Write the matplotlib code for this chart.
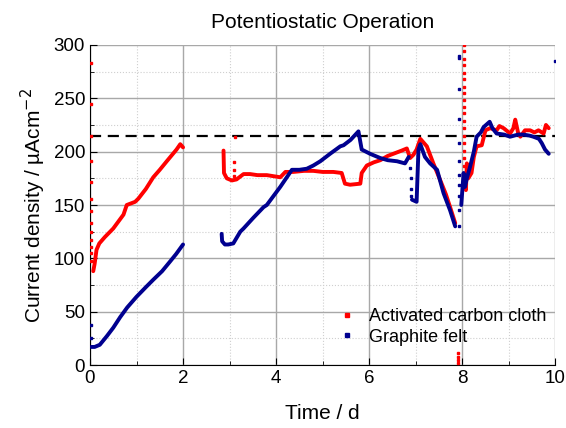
import matplotlib
matplotlib.use("Agg")
import matplotlib.pyplot as plt
from matplotlib.ticker import MultipleLocator

plt.rcParams['font.family'] = ['Liberation Sans', 'DejaVu Sans']

# activated carbon cloth (red)
red_t1 = [0.07, 0.1, 0.14, 0.2, 0.32, 0.5, 0.72, 0.79, 0.97, 1.04, 1.2, 1.36, 1.5, 1.65, 1.86, 1.94, 2.0]
red_v1 = [88, 95, 108, 114, 120, 128, 141, 150, 153, 156, 165, 176, 183, 191, 202, 207, 204]
red_t2 = [2.87, 2.88, 2.94, 3.05, 3.15, 3.3, 3.44, 3.6, 3.8, 4.09, 4.2, 4.37, 4.6, 4.8, 5.0, 5.23, 5.41,
          5.48, 5.59, 5.81, 5.84, 5.95, 6.1, 6.24, 6.4, 6.52, 6.7, 6.81, 6.88, 6.95, 7.02, 7.1, 7.24,
          7.38, 7.53, 7.65, 7.74, 7.85]
red_v2 = [201, 180, 175, 173, 174, 179, 179, 178, 178, 176, 181, 181, 182, 182, 181, 181, 180,
          170, 169, 170, 180, 187, 190, 192, 196, 198, 201, 203, 194, 197, 202, 212, 205,
          189, 173, 160, 148, 133]
red_t3 = [8.05, 8.08, 8.1, 8.13, 8.2, 8.25, 8.31, 8.42, 8.5, 8.6, 8.74, 8.8, 8.89, 9.03, 9.1, 9.14,
          9.2, 9.25, 9.35, 9.46, 9.55, 9.64, 9.75, 9.8, 9.86]
red_v3 = [170, 164, 189, 175, 180, 195, 205, 206, 220, 222, 220, 224, 222, 217, 222, 230,
          218, 214, 220, 220, 218, 220, 217, 225, 222]
# scattered red points
red_dot_t = [0.02] * 13 + [3.1, 3.1, 3.1, 3.12] + [7.91] * 4 + [8.03] * 20
red_dot_v = [283, 245, 215, 191, 172, 156, 144, 133, 125, 117, 111, 105, 98,
             177, 183, 190, 214,
             2, 5, 8, 11,
             300, 294, 287, 281, 274, 268, 261, 255, 248, 242, 236, 229, 222, 215, 208, 201, 194, 187, 180, 173]

# graphite felt (blue)
blue_t1 = [0.03, 0.1, 0.21, 0.36, 0.5, 0.65, 0.8, 1.0, 1.2, 1.36, 1.55, 1.72, 1.85, 2.0]
blue_v1 = [17, 17, 19, 27, 35, 45, 54, 64, 73, 80, 88, 97, 104, 113]
blue_t2 = [2.83, 2.84, 2.9, 2.97, 3.08, 3.23, 3.3, 3.51, 3.73, 3.8, 4.09, 4.34, 4.5, 4.66, 4.8, 4.95,
           5.16, 5.38, 5.45, 5.6, 5.77, 5.84, 6.02, 6.24, 6.4, 6.6, 6.77, 6.85]
blue_v2 = [123, 116, 113, 113, 114, 125, 128, 138, 148, 150, 167, 183, 183, 184, 187, 191,
           198, 205, 206, 211, 219, 202, 198, 194, 192, 191, 189, 195]
blue_t3 = [6.92, 6.97, 7.02, 7.06, 7.1, 7.2, 7.31, 7.46, 7.6, 7.74, 7.85]
blue_v3 = [155, 154, 153, 202, 207, 195, 189, 183, 161, 145, 130]
blue_t4 = [7.98, 8.03, 8.06, 8.1, 8.17, 8.25, 8.31, 8.4, 8.46, 8.59, 8.65, 8.74, 8.9, 9.03, 9.2,
           9.32, 9.45, 9.53, 9.65, 9.71, 9.78, 9.86]
blue_v4 = [150, 180, 167, 175, 186, 200, 214, 218, 223, 228, 222, 217, 216, 214, 216,
           216, 215, 214, 212, 208, 202, 198]
# scattered blue points
blue_dot_t = [0.02, 0.02] + [6.88, 6.89, 6.9, 6.91] + [7.93] * 11 + [10.0]
blue_dot_v = [38, 25] + [185, 175, 165, 158] + [290, 288, 259, 231, 208, 191, 178, 169, 158, 145, 130] + [285]

target = 215

red = '#ff0000'
blue = '#00008f'

fig = plt.figure(figsize=(5.66, 4.28), dpi=100)
ax = fig.add_axes([0.159, 0.147, 0.822, 0.748])

ax.plot([0, 10], [target, target], '--', color='black', lw=1.6, dashes=(5, 3), zorder=1)

for t, v in [(red_t1, red_v1), (red_t2, red_v2), (red_t3, red_v3)]:
    ax.plot(t, v, '-', color=red, lw=2.8, solid_capstyle='round', zorder=3)
ax.plot(red_dot_t, red_dot_v, 's', color=red, ms=1.8, ls='none', zorder=3)

for t, v in [(blue_t1, blue_v1), (blue_t2, blue_v2), (blue_t3, blue_v3), (blue_t4, blue_v4)]:
    ax.plot(t, v, '-', color=blue, lw=2.8, solid_capstyle='round', zorder=4)
ax.plot(blue_dot_t, blue_dot_v, 's', color=blue, ms=1.8, ls='none', zorder=4)

# legend handles
ax.plot([], [], 's', color=red, ms=2.2, label='Activated carbon cloth')
ax.plot([], [], 's', color=blue, ms=2.2, label='Graphite felt')
h, l = ax.get_legend_handles_labels()
ax.legend(h[-2:], l[-2:], loc='lower right', bbox_to_anchor=(1.015, 0.01), frameon=False,
          fontsize=13, handlelength=0.8, handletextpad=0.8, labelspacing=0.2)

ax.set_xlim(0, 10)
ax.set_ylim(0, 300)
ax.xaxis.set_major_locator(MultipleLocator(2))
ax.xaxis.set_minor_locator(MultipleLocator(1))
ax.yaxis.set_major_locator(MultipleLocator(50))
ax.yaxis.set_minor_locator(MultipleLocator(25))
ax.grid(which='major', color='#a8a8a8', lw=1, ls='-')
ax.grid(which='minor', color='#cfcfcf', lw=0.8, ls=':')
ax.set_axisbelow(True)
ax.spines['top'].set_visible(False)
ax.spines['right'].set_visible(False)
ax.tick_params(which='both', direction='in', labelsize=13.5)
ax.tick_params(which='major', length=5)
ax.tick_params(which='minor', length=3)

ax.set_title('Potentiostatic Operation', fontsize=15, pad=12)
ax.set_xlabel('Time / d', fontsize=15, labelpad=12)
ax.set_ylabel('Current density / µAcm$^{-2}$', fontsize=15)

fig.savefig('out.png', dpi=100)
